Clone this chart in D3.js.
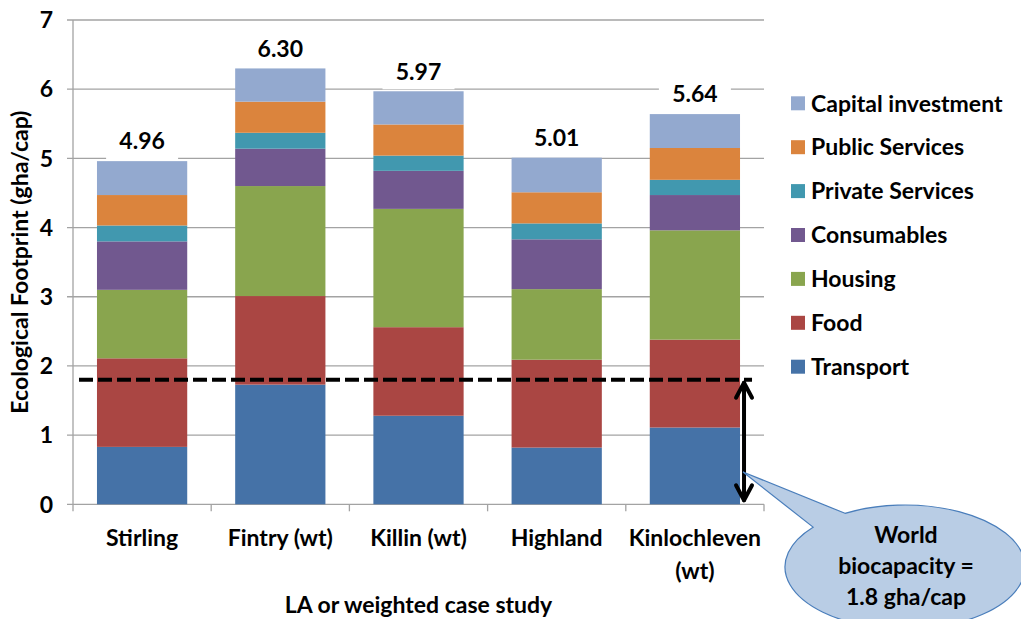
<!DOCTYPE html>
<html>
<head>
<meta charset="utf-8">
<script src="https://cdn.jsdelivr.net/npm/d3@7"></script>
<style>
  html, body { margin: 0; padding: 0; background: #fff; }
  svg text { font-family: Lato, "Open Sans", sans-serif; font-weight: 700; fill: #000; }
</style>
</head>
<body>
<svg id="chart" width="1021" height="619"></svg>
<script>
// Ecological footprint (gha/cap) by component for each area
const categories = ["Stirling", "Fintry (wt)", "Killin (wt)", "Highland", "Kinlochleven (wt)"];
const categoryLines = [["Stirling"], ["Fintry (wt)"], ["Killin (wt)"], ["Highland"], ["Kinlochleven", "(wt)"]];

const seriesNames = ["Transport", "Food", "Housing", "Consumables", "Private Services", "Public Services", "Capital investment"];
const seriesColors = ["#4572a7", "#aa4643", "#89a54e", "#71588f", "#4198af", "#db843d", "#93a9cf"];

const transport         = [0.83, 1.73, 1.28, 0.82, 1.11];
const food              = [1.28, 1.28, 1.28, 1.27, 1.27];
const housing           = [0.99, 1.59, 1.71, 1.02, 1.58];
const consumables       = [0.70, 0.54, 0.55, 0.72, 0.51];
const privateServices   = [0.23, 0.23, 0.22, 0.23, 0.22];
const publicServices    = [0.44, 0.45, 0.45, 0.45, 0.46];
const capitalInvestment = [0.49, 0.48, 0.48, 0.50, 0.49];

const totalLabels = ["4.96", "6.30", "5.97", "5.01", "5.64"];
const yTicks = [0, 1, 2, 3, 4, 5, 6, 7];
const worldBiocapacity = 1.8;
const calloutLines = ["World", "biocapacity =", "1.8 gha/cap"];

const seriesValues = [transport, food, housing, consumables, privateServices, publicServices, capitalInvestment];

// table for d3.stack
const rows = categories.map((c, i) => {
  const r = { category: c };
  seriesNames.forEach((s, j) => { r[s] = seriesValues[j][i]; });
  return r;
});

const svg = d3.select("#chart");
const plot = { left: 73, right: 764, top: 20, bottom: 504.3 };
const fontSize = "23px";

const x = d3.scaleBand()
  .domain(categories)
  .range([plot.left, plot.right])
  .paddingInner(0.347)
  .paddingOuter(0.1735);

const y = d3.scaleLinear()
  .domain([0, 7])
  .range([plot.bottom, plot.top]);

const gridColor = "#a3a3a3";

// horizontal gridlines with short outside ticks
svg.append("g")
  .selectAll("line")
  .data(yTicks)
  .join("line")
  .attr("x1", plot.left - 6)
  .attr("x2", plot.right)
  .attr("y1", d => y(d))
  .attr("y2", d => y(d))
  .attr("stroke", gridColor)
  .attr("stroke-width", 1.3);

// y axis line
svg.append("line")
  .attr("x1", plot.left).attr("x2", plot.left)
  .attr("y1", y(7)).attr("y2", y(0))
  .attr("stroke", gridColor).attr("stroke-width", 1.3);

// x axis ticks at category boundaries
const boundaries = categories.map(c => x(c) - (x.step() - x.bandwidth()) / 2).concat([plot.right]);
svg.append("g")
  .selectAll("line")
  .data(boundaries)
  .join("line")
  .attr("x1", d => d).attr("x2", d => d)
  .attr("y1", y(0)).attr("y2", y(0) + 7)
  .attr("stroke", gridColor).attr("stroke-width", 1.3);

// y tick labels
svg.append("g")
  .selectAll("text")
  .data(yTicks)
  .join("text")
  .attr("x", 53)
  .attr("y", d => y(d))
  .attr("dy", "0.36em")
  .attr("text-anchor", "end")
  .style("font-size", fontSize)
  .text(d => d);

// stacked bars
const stacked = d3.stack().keys(seriesNames)(rows);
svg.append("g")
  .selectAll("g")
  .data(stacked)
  .join("g")
  .attr("fill", (d, i) => seriesColors[i])
  .selectAll("rect")
  .data(d => d)
  .join("rect")
  .attr("x", d => x(d.data.category))
  .attr("width", x.bandwidth())
  .attr("y", d => y(d[1]))
  .attr("height", d => y(d[0]) - y(d[1]));

// total labels with white boxes
const totals = rows.map(r => d3.sum(seriesNames, s => r[s]));
const labelG = svg.append("g");
categories.forEach((c, i) => {
  const cx = x(c) + x.bandwidth() / 2;
  const cy = y(totals[i]) - 20;
  labelG.append("rect")
    .attr("x", cx - 36).attr("y", cy - 16)
    .attr("width", 72).attr("height", 34)
    .attr("fill", "#fff");
  labelG.append("text")
    .attr("x", cx).attr("y", cy)
    .attr("dy", "0.36em")
    .attr("text-anchor", "middle")
    .style("font-size", fontSize)
    .text(totalLabels[i]);
});

// category labels
svg.append("g")
  .selectAll("text")
  .data(categories)
  .join("text")
  .attr("text-anchor", "middle")
  .attr("x", d => x(d) + x.bandwidth() / 2)
  .attr("y", 538)
  .style("font-size", fontSize)
  .each(function (d, i) {
    d3.select(this).selectAll("tspan")
      .data(categoryLines[i])
      .join("tspan")
      .attr("x", x(d) + x.bandwidth() / 2)
      .attr("dy", (t, k) => k === 0 ? "0.36em" : "33px")
      .text(t => t);
  });

// axis titles
svg.append("text")
  .attr("x", (plot.left + plot.right) / 2)
  .attr("y", 605)
  .attr("dy", "0.36em")
  .attr("text-anchor", "middle")
  .style("font-size", fontSize)
  .text("LA or weighted case study");

svg.append("text")
  .attr("transform", `translate(20, ${(plot.top + plot.bottom) / 2}) rotate(-90)`)
  .attr("dy", "0.36em")
  .attr("text-anchor", "middle")
  .style("font-size", fontSize)
  .text("Ecological Footprint (gha/cap)");

// world biocapacity dashed line
const lastCat = categories[categories.length - 1];
const lastRight = x(lastCat) + x.bandwidth();
svg.append("line")
  .attr("x1", plot.left + 6)
  .attr("x2", lastRight + 12)
  .attr("y1", y(worldBiocapacity))
  .attr("y2", y(worldBiocapacity))
  .attr("stroke", "#000")
  .attr("stroke-width", 4)
  .attr("stroke-dasharray", "14,5");

// double-headed arrow from 0 to biocapacity
const ax = lastRight + 4;
const aTop = y(worldBiocapacity) + 3;
const aBot = y(0) - 4;
const arrow = svg.append("g")
  .attr("stroke", "#000").attr("stroke-width", 4)
  .attr("fill", "none").attr("stroke-linecap", "round").attr("stroke-linejoin", "round");
arrow.append("line").attr("x1", ax).attr("x2", ax).attr("y1", aTop).attr("y2", aBot);
arrow.append("path").attr("d", `M${ax - 8},${aTop + 15} L${ax},${aTop} L${ax + 8},${aTop + 15}`);
arrow.append("path").attr("d", `M${ax - 8},${aBot - 15} L${ax},${aBot} L${ax + 8},${aBot - 15}`);

// callout bubble
const bub = { cx: 905, cy: 567, rx: 120, ry: 62 };
const tip = [ax - 1, 472];
const angA = 240 * Math.PI / 180, angB = 220 * Math.PI / 180;
const pA = [bub.cx + bub.rx * Math.cos(angA), bub.cy + bub.ry * Math.sin(angA)];
const pB = [bub.cx + bub.rx * Math.cos(angB), bub.cy + bub.ry * Math.sin(angB)];
svg.append("path")
  .attr("d", `M${pA[0]},${pA[1]} L${tip[0]},${tip[1]} L${pB[0]},${pB[1]} A${bub.rx},${bub.ry} 0 1 0 ${pA[0]},${pA[1]} Z`)
  .attr("fill", "#b9cde5")
  .attr("stroke", "#4a7ebb")
  .attr("stroke-width", 1.2);

svg.append("g")
  .selectAll("text")
  .data(calloutLines)
  .join("text")
  .attr("x", 906)
  .attr("y", (d, i) => 535 + i * 31)
  .attr("dy", "0.36em")
  .attr("text-anchor", "middle")
  .style("font-size", fontSize)
  .text(d => d);

// legend (reverse stacking order)
const legendItems = seriesNames.map((s, i) => ({ name: s, color: seriesColors[i] })).reverse();
const legend = svg.append("g")
  .selectAll("g")
  .data(legendItems)
  .join("g")
  .attr("transform", (d, i) => `translate(791, ${103.3 + i * 43.9})`);
legend.append("rect")
  .attr("x", 0).attr("y", -7)
  .attr("width", 14).attr("height", 14)
  .attr("fill", d => d.color);
legend.append("text")
  .attr("x", 20)
  .attr("dy", "0.36em")
  .style("font-size", fontSize)
  .text(d => d.name);
</script>
</body>
</html>
